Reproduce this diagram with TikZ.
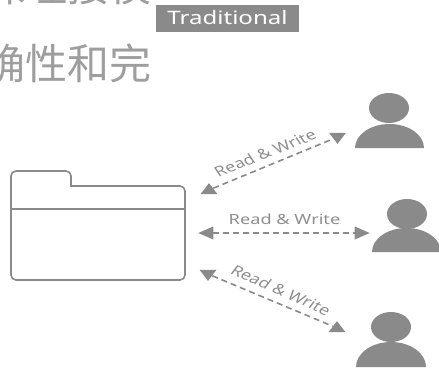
\documentclass[tikz,border=0pt]{standalone}
\usepackage{fontspec}
\setmainfont{Noto Sans}
\newfontfamily\cjkfont{Noto Sans CJK SC}
\usetikzlibrary{shapes.geometric}
\definecolor{iconfill}{RGB}{138,138,138}
\definecolor{labeltext}{RGB}{142,142,142}
\definecolor{headline}{RGB}{158,158,158}
\tikzset{
    tip/.style={isosceles triangle, isosceles triangle stretches, fill=iconfill, inner sep=0pt, minimum height=11pt, minimum width=17pt},
    sidetip/.style={tip, minimum height=15pt, minimum width=13pt},
    rwline/.style={iconfill, line width=1.6pt, dash pattern=on 6pt off 4pt},
    head/.style={ellipse, fill=iconfill, inner sep=0pt, minimum width=40pt, minimum height=30pt},
    rwlabel/.style={labeltext, transform shape, xscale=1.3, font=\fontsize{14}{15}\selectfont},
    bigline/.style={headline, font=\fontsize{42}{42}\selectfont\cjkfont, inner sep=0pt, anchor=west}
}

\begin{document}
\begin{tikzpicture}[x=1pt, y=-1pt]

    \useasboundingbox (0,0) rectangle (439,367);
    \clip (0,0) rectangle (439,367);

    % text at the top
    \node[bigline] (lineone) at (-17,-14) {保理接模};
    \node[bigline] (linetwo) at (-17,63) {确性和完};
    \node[fill=iconfill, minimum width=143pt, minimum height=27pt, inner sep=0pt] (badge) at (227.5,18.5) {};
    \node[text=white, transform shape, xscale=1.3, font=\fontsize{18.5}{20}\selectfont] (badgetext) at (227.5,18) {Traditional};

    % folder
    \draw[iconfill, line width=1.6pt, rounded corners=5pt] (11,280) -- (11,171) -- (71,171) -- (71,186) [sharp corners] -- (71,186) [rounded corners=5pt] -- (185,186) -- (185,280) -- cycle;
    \draw[iconfill, line width=1.3pt] (11,209) -- (185,209);

    % users
    \node[head] (headone) at (389,108) {};
    \fill[iconfill] (355,148) arc[start angle=180, end angle=360, x radius=34.5, y radius=24] -- cycle;
    \node[head] (headtwo) at (407,214) {};
    \fill[iconfill] (372,252) arc[start angle=180, end angle=360, x radius=34.5, y radius=24] -- cycle;
    \node[head] (headthree) at (391,327) {};
    \fill[iconfill] (356,367) arc[start angle=180, end angle=360, x radius=35, y radius=25] -- cycle;

    % top arrow
    \node[tip, shape border rotate=90] (tipa) at (209,190) {};
    \node[tip, shape border rotate=270] (tipb) at (337.5,137) {};
    \draw[rwline] (tipa) -- (tipb);
    \node[rwlabel, rotate=27] (labela) at (265,153) {Read \& Write};

    % middle arrow
    \node[sidetip, shape border rotate=180] (tipc) at (209,233) {};
    \node[sidetip, shape border rotate=0] (tipd) at (359,233) {};
    \draw[rwline] (tipc) -- (tipd);
    \node[rwlabel] (labelb) at (284.5,219) {Read \& Write};

    % bottom arrow
    \node[tip, shape border rotate=270] (tipe) at (208,274) {};
    \node[tip, shape border rotate=90] (tipf) at (337,328) {};
    \draw[rwline] (tipe) -- (tipf);
    \node[rwlabel, rotate=-30] (labelc) at (281,290) {Read \& Write};

\end{tikzpicture}
\end{document}
